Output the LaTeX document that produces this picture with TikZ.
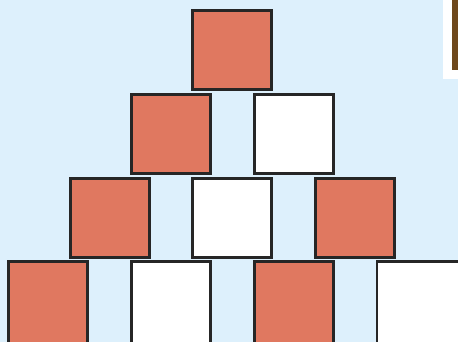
\documentclass[tikz,border=0pt]{standalone}
\usepackage{tikz}
\usetikzlibrary{positioning}
\definecolor{skyblue}{RGB}{221,240,252}
\definecolor{brickred}{RGB}{224,120,96}
\definecolor{boxline}{RGB}{38,38,38}
\definecolor{woodbrown}{RGB}{110,72,28}
\tikzset{
  tile/.style={draw=boxline,line width=2.8pt,minimum size=79.5pt,inner sep=0pt,outer sep=0pt},
  redtile/.style={tile,fill=brickred},
  whitetile/.style={tile,fill=white}
}
\begin{document}
\begin{tikzpicture}[x=1pt,y=-1pt]
        \fill[skyblue] (0,0) rectangle (458,342);
        \useasboundingbox (0,0) rectangle (458,342);
        \clip (0,0) rectangle (458,342);
        % frame peeking in at the corner
        \fill[white] (443,0) rectangle (458,79);
        \fill[woodbrown] (452,0) rectangle (458,70);
        % row 1
        \node[redtile] (t11) at (232,50) {};
        % row 2
        \node[redtile] (t21) at (171,134) {};
        \node[whitetile] (t22) at (294,134) {};
        % row 3
        \node[redtile] (t31) at (110,218) {};
        \node[whitetile] (t32) at (232,218) {};
        \node[redtile] (t33) at (355,218) {};
        % row 4 (runs off the bottom)
        \node[redtile,minimum height=84pt] (t41) at (48,303.5) {};
        \node[whitetile,minimum height=84pt] (t42) at (171,303.5) {};
        \node[redtile,minimum height=84pt] (t43) at (294,303.5) {};
        \node[whitetile,minimum height=84pt,minimum width=84pt] (t44) at (419,303.5) {};
      \end{tikzpicture}
\end{document}
